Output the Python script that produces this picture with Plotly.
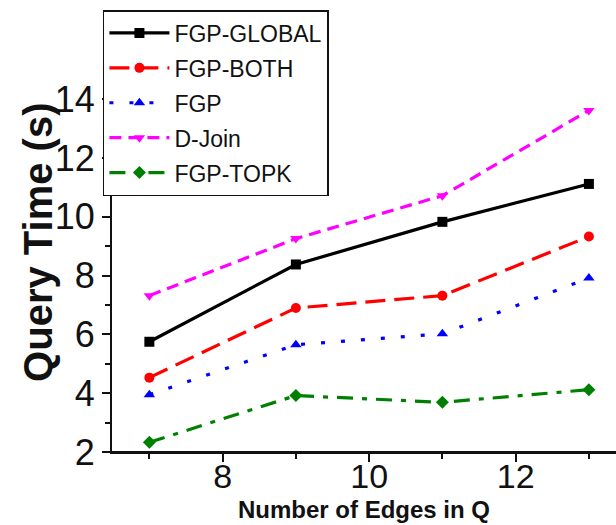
import plotly.graph_objects as go

edges = [7, 9, 11, 13]
fgp_global = [5.75, 8.38, 9.83, 11.12]
fgp_both = [4.53, 6.9, 7.32, 9.33]
fgp = [3.95, 5.65, 6.02, 7.92]
d_join = [7.32, 9.26, 10.72, 13.62]
fgp_topk = [2.33, 3.92, 3.69, 4.12]

series = [
    ("FGP-GLOBAL", fgp_global, "#000000", "solid", "square"),
    ("FGP-BOTH", fgp_both, "#ff0000", "20px,9px", "circle"),
    ("FGP", fgp, "#0000ff", "4px,16px", "triangle-up"),
    ("D-Join", d_join, "#ff00ff", "12px,7px", "triangle-down"),
    ("FGP-TOPK", fgp_topk, "#008000", "16px,9px,5px,9px", "diamond"),
]

fig = go.Figure()
for i, (name, vals, col, dash, sym) in enumerate(series):
    fig.add_trace(go.Scatter(
        x=edges, y=vals, name=name, mode="lines+markers",
        line=dict(color=col, width=3.2, dash=dash),
        marker=dict(color=col, size=10, symbol=sym),
        legendgroup=f"g{i}",
    ))

axis_font = dict(family="Liberation Sans, Arial, sans-serif", size=36, color="#111")
xtick_font = dict(family="Liberation Sans, Arial, sans-serif", size=34, color="#111")
fig.update_layout(
    width=616, height=525,
    margin=dict(l=112, r=0, t=69, b=73, pad=0),
    paper_bgcolor="white", plot_bgcolor="white",
    font=dict(family="Liberation Sans, Arial, sans-serif", color="#111"),
    showlegend=True,
    legend=dict(
        x=-0.018, y=1.154, xanchor="left", yanchor="top",
        bordercolor="#111", borderwidth=1.5, bgcolor="white",
        font=dict(size=23, color="#111"),
        itemwidth=60, tracegroupgap=2,
    ),
    xaxis=dict(
        range=[6.49, 13.37], tick0=0, dtick=2,
        showline=True, linecolor="#111", linewidth=2,
        ticks="outside", ticklen=8, tickwidth=2, tickcolor="#111",
        minor=dict(dtick=1, tick0=0, ticks="outside", ticklen=5, tickwidth=2, tickcolor="#111"),
        showgrid=False, zeroline=False, tickfont=xtick_font,
        ticklabelstandoff=-15,
        automargin=False,
    ),
    yaxis=dict(
        range=[2, 15.03], tick0=0, dtick=2,
        showline=True, linecolor="#111", linewidth=2,
        ticks="outside", ticklen=8, tickwidth=2, tickcolor="#111",
        minor=dict(dtick=1, tick0=0, ticks="outside", ticklen=5, tickwidth=2, tickcolor="#111"),
        showgrid=False, zeroline=False, tickfont=axis_font,
        automargin=False,
    ),
    shapes=[dict(type="line", xref="paper", yref="paper", x0=-0.018, x1=1, y0=0, y1=0,
                 line=dict(color="#111", width=2))],
    annotations=[
        dict(text="<b>Query Time (s)</b>", xref="paper", yref="paper", x=0, y=0.546,
             xanchor="center", yanchor="middle", xshift=-74, textangle=-90, showarrow=False,
             font=dict(size=40, color="#111")),
        dict(text="<b>Number of Edges in Q</b>", xref="paper", yref="paper", x=0.5, y=0,
             xanchor="center", yanchor="bottom", yshift=-(525 - 452),
             showarrow=False, font=dict(size=24, color="#111")),
    ],
)

fig.write_html("out.html")
